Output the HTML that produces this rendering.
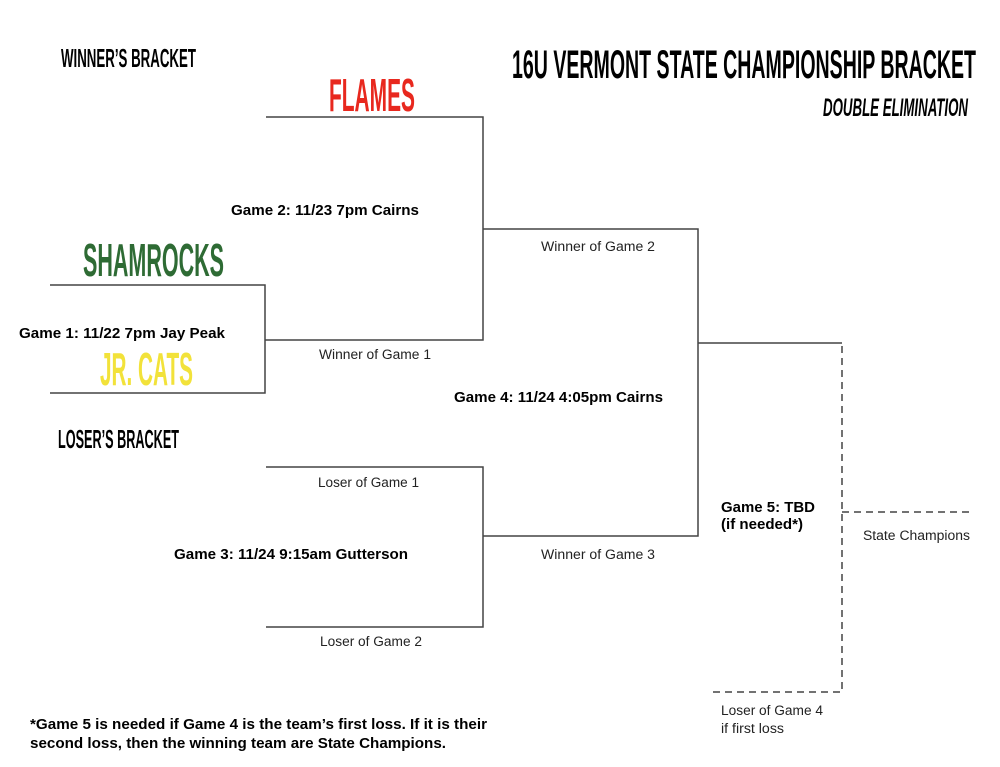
<!DOCTYPE html>
<html><head><meta charset="utf-8"><style>
html,body{margin:0;padding:0;background:#fff;}
svg{display:block}
.c{font-family:"Liberation Sans Narrow","Liberation Sans",sans-serif;font-weight:bold}
.b{font-family:"Liberation Sans",sans-serif;font-weight:bold;font-size:14.5px;fill:#000}
.n{font-family:"Liberation Sans",sans-serif;font-size:13.5px;fill:#222}
</style></head><body>
<svg width="1000" height="767" viewBox="0 0 1000 767" xmlns="http://www.w3.org/2000/svg">
<g stroke="#444" stroke-width="1.5" fill="none">
<polyline points="266,117 483,117 483,340 265,340"/>
<polyline points="50,285 265,285 265,393 50,393"/>
<polyline points="483,229 698,229 698,536 483,536"/>
<polyline points="266,467 483,467 483,627 266,627"/>
<line x1="698" y1="343" x2="842" y2="343"/>
</g>
<g stroke="#444" stroke-width="1.5" fill="none" stroke-dasharray="7,5">
<polyline points="842,346 842,692 710,692"/>
<line x1="842" y1="512" x2="972" y2="512"/>
</g>
<text class="c" x="61" y="67" font-size="26" textLength="135" lengthAdjust="spacingAndGlyphs">WINNER’S BRACKET</text>
<text class="c" x="512" y="78" font-size="40" textLength="464" lengthAdjust="spacingAndGlyphs">16U VERMONT STATE CHAMPIONSHIP BRACKET</text>
<text class="c" x="823" y="116" font-size="25" font-style="italic" textLength="145" lengthAdjust="spacingAndGlyphs">DOUBLE ELIMINATION</text>
<text class="c" x="329" y="111" font-size="46" fill="#e8281e" textLength="86" lengthAdjust="spacingAndGlyphs">FLAMES</text>
<text class="c" x="83" y="276" font-size="46" fill="#2e6b34" textLength="141" lengthAdjust="spacingAndGlyphs">SHAMROCKS</text>
<text class="c" x="100" y="385" font-size="46" fill="#f2e23a" textLength="93" lengthAdjust="spacingAndGlyphs">JR. CATS</text>
<text class="c" x="58" y="448" font-size="26" textLength="121" lengthAdjust="spacingAndGlyphs">LOSER’S BRACKET</text>
<text class="b" x="231" y="215" textLength="188" lengthAdjust="spacingAndGlyphs">Game 2: 11/23 7pm Cairns</text>
<text class="b" x="19" y="338" textLength="206" lengthAdjust="spacingAndGlyphs">Game 1: 11/22 7pm Jay Peak</text>
<text class="b" x="454" y="402" textLength="209" lengthAdjust="spacingAndGlyphs">Game 4: 11/24 4:05pm Cairns</text>
<text class="b" x="174" y="559" textLength="234" lengthAdjust="spacingAndGlyphs">Game 3: 11/24 9:15am Gutterson</text>
<text class="b" x="721" y="512" textLength="94" lengthAdjust="spacingAndGlyphs">Game 5: TBD</text>
<text class="b" x="721" y="529" textLength="82" lengthAdjust="spacingAndGlyphs">(if needed*)</text>
<text class="n" x="541" y="251" textLength="114" lengthAdjust="spacingAndGlyphs">Winner of Game 2</text>
<text class="n" x="319" y="359" textLength="112" lengthAdjust="spacingAndGlyphs">Winner of Game 1</text>
<text class="n" x="318" y="487" textLength="101" lengthAdjust="spacingAndGlyphs">Loser of Game 1</text>
<text class="n" x="541" y="559" textLength="114" lengthAdjust="spacingAndGlyphs">Winner of Game 3</text>
<text class="n" x="320" y="646" textLength="102" lengthAdjust="spacingAndGlyphs">Loser of Game 2</text>
<text class="n" x="863" y="540" textLength="107" lengthAdjust="spacingAndGlyphs">State Champions</text>
<text class="n" x="721" y="715" textLength="102" lengthAdjust="spacingAndGlyphs">Loser of Game 4</text>
<text class="n" x="721" y="733" textLength="63" lengthAdjust="spacingAndGlyphs">if first loss</text>
<text class="b" x="30" y="729" textLength="457" lengthAdjust="spacingAndGlyphs">*Game 5 is needed if Game 4 is the team’s first loss. If it is their</text>
<text class="b" x="30" y="748" textLength="416" lengthAdjust="spacingAndGlyphs">second loss, then the winning team are State Champions.</text>
</svg>
</body></html>
